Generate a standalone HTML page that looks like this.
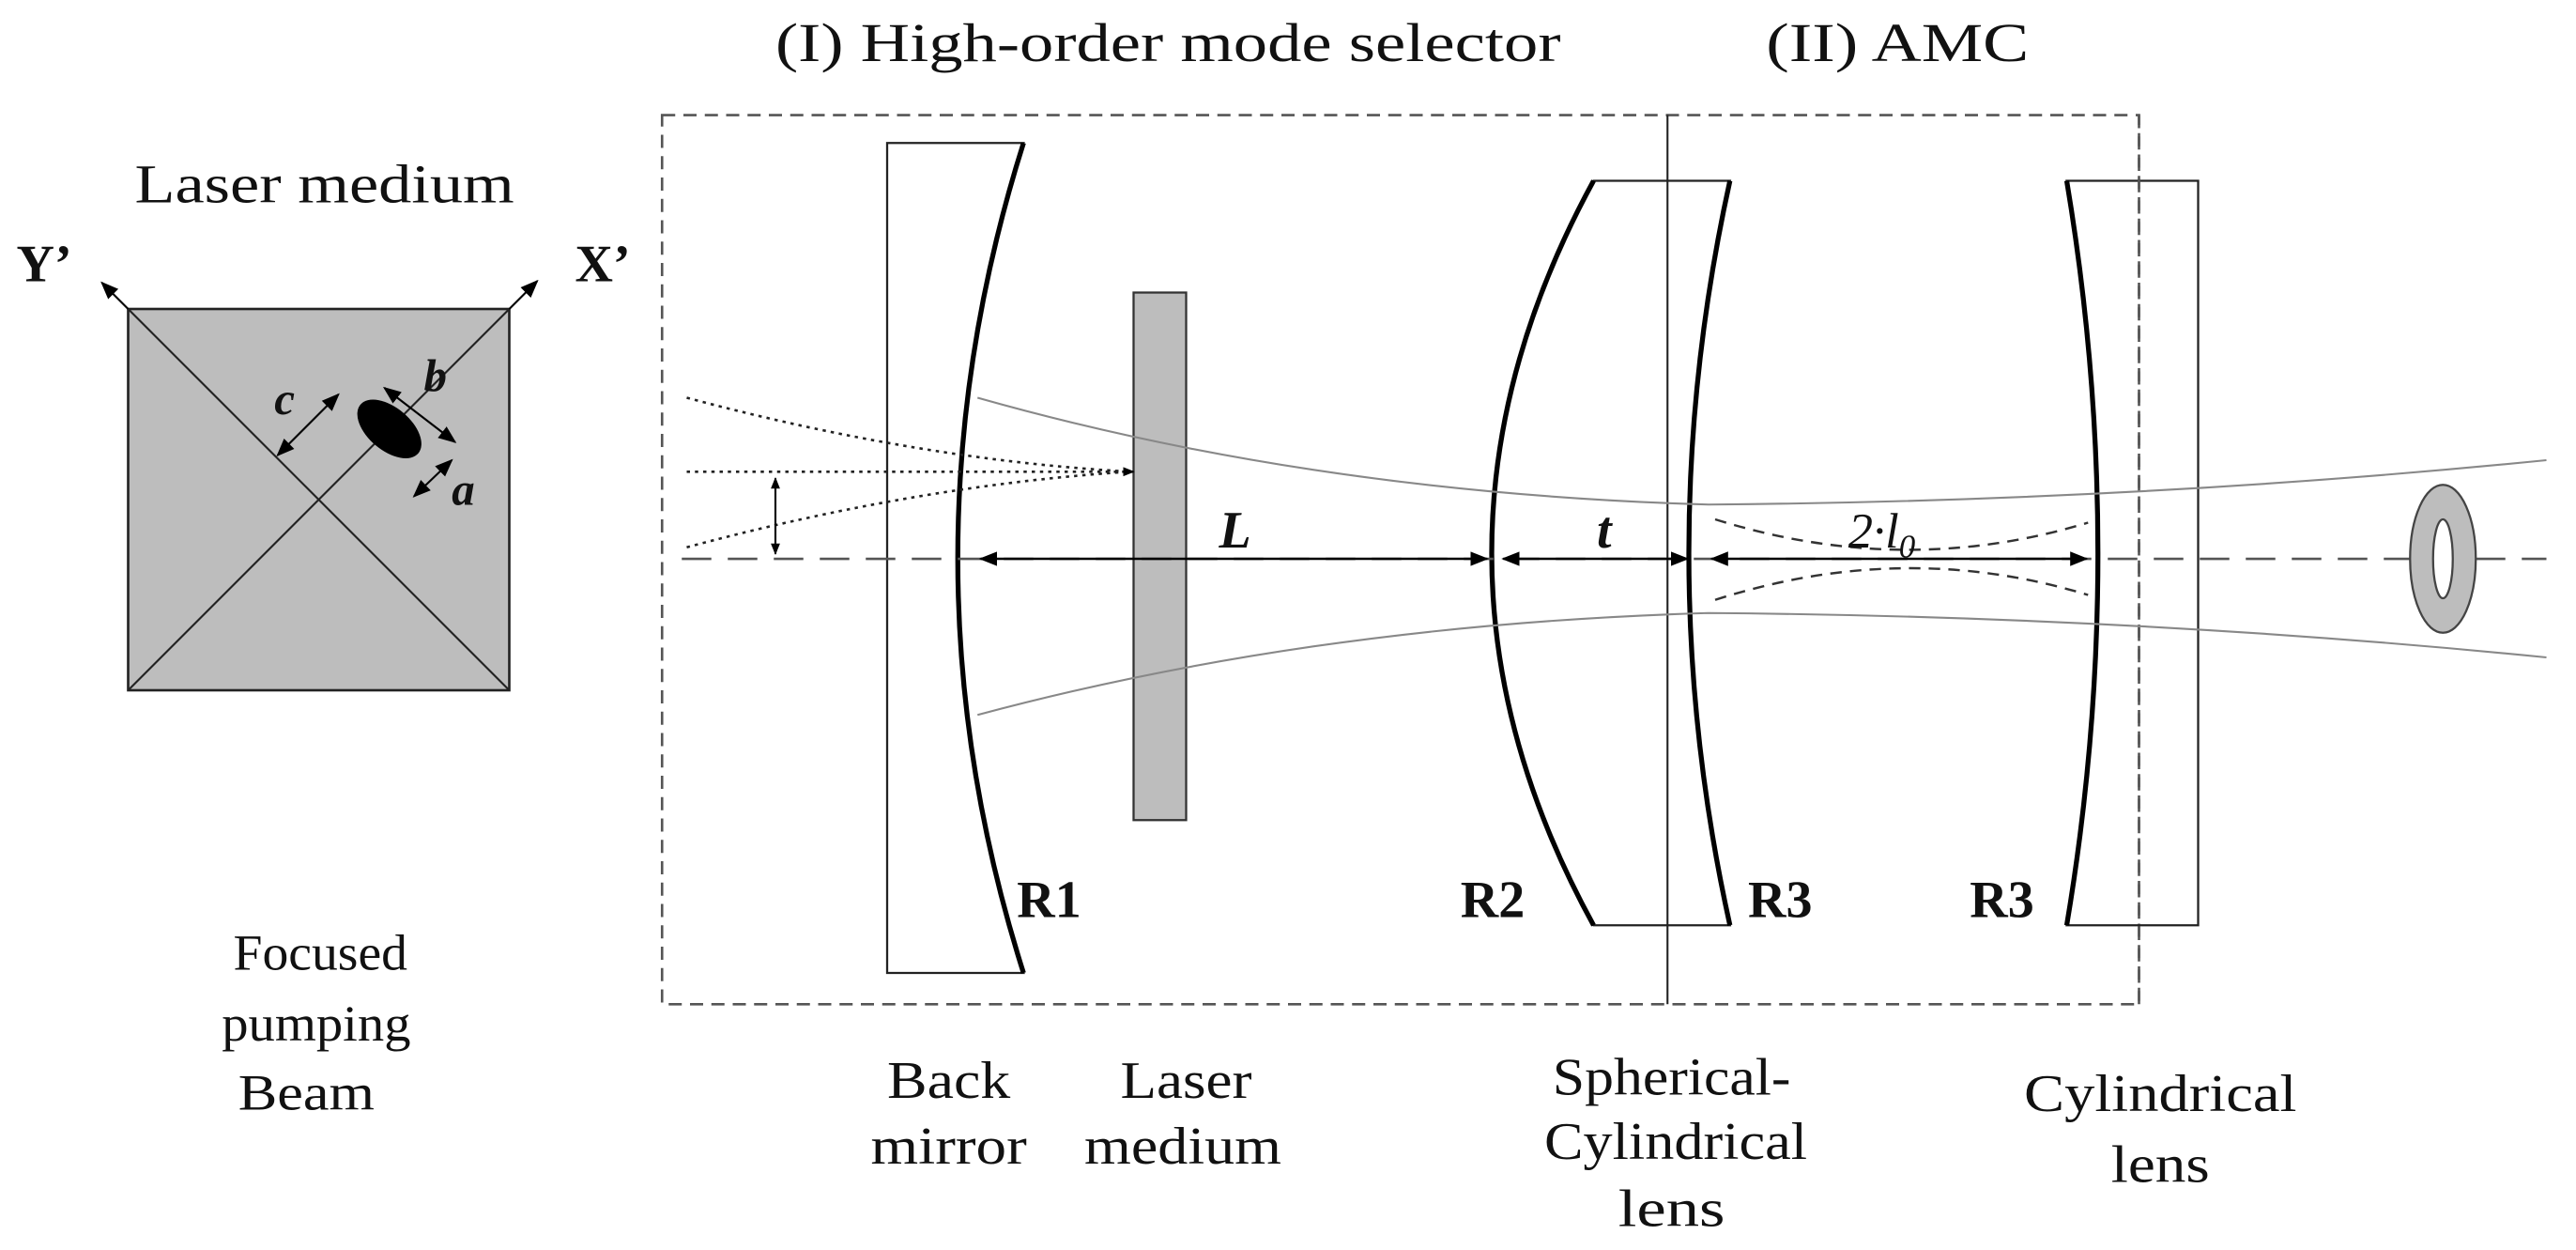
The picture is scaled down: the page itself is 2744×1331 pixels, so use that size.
<!DOCTYPE html>
<html><head><meta charset="utf-8"><style>
html,body{margin:0;padding:0;background:#fff;}
svg{display:block;}
text{font-family:"Liberation Serif",serif;fill:#111;}
</style></head><body>
<svg width="2744" height="1331" viewBox="0 0 1568 760.57" xmlns="http://www.w3.org/2000/svg">
<defs>
<marker id="ah" viewBox="0 0 10 10" refX="9" refY="5" markerWidth="7" markerHeight="7" orient="auto-start-reverse" markerUnits="userSpaceOnUse"><path d="M0,1 L10,5 L0,9 Z" fill="#000"/></marker>
<marker id="ahs" viewBox="0 0 10 10" refX="9" refY="5" markerWidth="11" markerHeight="11" orient="auto-start-reverse" markerUnits="userSpaceOnUse"><path d="M0,1 L10,5 L0,9 Z" fill="#000"/></marker>
</defs>
<!-- titles -->
<text x="472" y="37" font-size="33" textLength="478" lengthAdjust="spacingAndGlyphs">(I) High-order mode  selector</text>
<text x="1075" y="37" font-size="33" textLength="160" lengthAdjust="spacingAndGlyphs">(II) AMC</text>
<!-- dashed boxes -->
<rect x="403" y="70" width="899" height="541" fill="none" stroke="#555" stroke-width="1.5" stroke-dasharray="8,5"/>
<!-- left panel -->
<text x="82" y="123" font-size="33" textLength="231" lengthAdjust="spacingAndGlyphs">Laser medium</text>
<text x="10" y="171" font-size="32" font-weight="bold">Y’</text>
<text x="350" y="171" font-size="32" font-weight="bold">X’</text>
<rect x="78" y="188" width="232" height="232" fill="#bdbdbd" stroke="#222" stroke-width="1.5"/>
<line x1="78" y1="188" x2="310" y2="420" stroke="#222" stroke-width="1.2"/>
<line x1="310" y1="188" x2="78" y2="420" stroke="#222" stroke-width="1.2"/>
<line x1="78" y1="188" x2="62" y2="172" stroke="#000" stroke-width="1.2" marker-end="url(#ahs)"/>
<line x1="310" y1="188" x2="327" y2="171" stroke="#000" stroke-width="1.2" marker-end="url(#ahs)"/>
<ellipse cx="237" cy="261" rx="23" ry="13" transform="rotate(40 237 261)" fill="#000"/>
<line x1="169" y1="277" x2="206" y2="240" stroke="#000" stroke-width="1.2" marker-start="url(#ahs)" marker-end="url(#ahs)"/>
<line x1="234" y1="236" x2="277" y2="269" stroke="#000" stroke-width="1.2" marker-start="url(#ahs)" marker-end="url(#ahs)"/>
<line x1="252" y1="302" x2="275" y2="280" stroke="#000" stroke-width="1.2" marker-start="url(#ahs)" marker-end="url(#ahs)"/>
<text x="167" y="252" font-size="28" font-style="italic" font-weight="bold">c</text>
<text x="258" y="238" font-size="28" font-style="italic" font-weight="bold">b</text>
<text x="275" y="307" font-size="28" font-style="italic" font-weight="bold">a</text>
<text x="142" y="590" font-size="31" textLength="106" lengthAdjust="spacingAndGlyphs">Focused</text>
<text x="135" y="633" font-size="31" textLength="115" lengthAdjust="spacingAndGlyphs">pumping</text>
<text x="145" y="675" font-size="31" textLength="83" lengthAdjust="spacingAndGlyphs">Beam</text>
<!-- back mirror -->
<path d="M540,87 L623,87 Q543,340 623,592 L540,592 Z" fill="#fff" stroke="#222" stroke-width="1.3"/>
<path d="M623,87 Q543,340 623,592" fill="none" stroke="#000" stroke-width="3"/>
<!-- laser medium -->
<rect x="690" y="178" width="32" height="321" fill="#bdbdbd" stroke="#333" stroke-width="1.3"/>
<!-- spherical-cylindrical lens -->
<path d="M970,110 L1053,110 Q1003,337 1053,563 L970,563 Q846,337 970,110 Z" fill="#fff" stroke="#222" stroke-width="1.3"/>
<path d="M970,110 Q846,337 970,563" fill="none" stroke="#000" stroke-width="3"/>
<path d="M1053,110 Q1003,337 1053,563" fill="none" stroke="#000" stroke-width="3"/>
<line x1="1015" y1="70" x2="1015" y2="611" stroke="#222" stroke-width="1.2"/>
<!-- cylindrical lens -->
<path d="M1258,110 L1338,110 L1338,563 L1258,563 Q1296,337 1258,110 Z" fill="none" stroke="#222" stroke-width="1.3"/>
<path d="M1258,110 Q1296,337 1258,563" fill="none" stroke="#000" stroke-width="3"/>
<line x1="1302" y1="70" x2="1302" y2="611" stroke="#555" stroke-width="1.5" stroke-dasharray="8,5"/>
<!-- beam lines -->
<path d="M595,242 Q800,300 1040,307 Q1300,305 1550,280" fill="none" stroke="#888" stroke-width="1.2"/>
<path d="M595,435 Q800,380 1040,373 Q1300,375 1550,400" fill="none" stroke="#888" stroke-width="1.2"/>
<line x1="415" y1="340" x2="1550" y2="340" stroke="#555" stroke-width="1.5" stroke-dasharray="18,10"/>
<!-- dashed AMC curves -->
<path d="M1044,316 Q1159,352 1271,318" fill="none" stroke="#333" stroke-width="1.4" stroke-dasharray="7,5"/>
<path d="M1044,365 Q1159,328 1271,362" fill="none" stroke="#333" stroke-width="1.4" stroke-dasharray="7,5"/>
<!-- dotted input beam -->
<path d="M418,242 Q560,280 688,287" fill="none" stroke="#222" stroke-width="1.5" stroke-dasharray="2,3"/>
<path d="M418,333 Q560,295 688,287" fill="none" stroke="#222" stroke-width="1.5" stroke-dasharray="2,3"/>
<line x1="418" y1="287" x2="690" y2="287" stroke="#222" stroke-width="1.5" stroke-dasharray="2,3" marker-end="url(#ah)"/>
<line x1="472" y1="291" x2="472" y2="337" stroke="#000" stroke-width="1.2" marker-start="url(#ah)" marker-end="url(#ah)"/>
<!-- dimension arrows -->
<line x1="597" y1="340" x2="905" y2="340" stroke="#000" stroke-width="1.4" marker-start="url(#ahs)" marker-end="url(#ahs)"/>
<line x1="915" y1="340" x2="1027" y2="340" stroke="#000" stroke-width="1.4" marker-start="url(#ahs)" marker-end="url(#ahs)"/>
<line x1="1042" y1="340" x2="1270" y2="340" stroke="#000" stroke-width="1.4" marker-start="url(#ahs)" marker-end="url(#ahs)"/>
<text x="742" y="333" font-size="32" font-style="italic" font-weight="bold">L</text>
<text x="972" y="333" font-size="32" font-style="italic" font-weight="bold">t</text>
<text x="1125" y="333" font-size="30" font-style="italic">2·l<tspan font-size="20" dy="6">0</tspan></text>
<!-- ring -->
<ellipse cx="1487" cy="340" rx="20" ry="45" fill="#bdbdbd" stroke="#444" stroke-width="1.3"/>
<ellipse cx="1487" cy="340" rx="6" ry="24" fill="#fff" stroke="#444" stroke-width="1.3"/>
<!-- R labels -->
<text x="619" y="558" font-size="32" font-weight="bold">R1</text>
<text x="889" y="558" font-size="32" font-weight="bold">R2</text>
<text x="1064" y="558" font-size="32" font-weight="bold">R3</text>
<text x="1199" y="558" font-size="32" font-weight="bold">R3</text>
<!-- bottom labels -->
<text x="540" y="668" font-size="32" textLength="75" lengthAdjust="spacingAndGlyphs">Back</text>
<text x="530" y="708" font-size="32" textLength="95" lengthAdjust="spacingAndGlyphs">mirror</text>
<text x="682" y="668" font-size="32" textLength="80" lengthAdjust="spacingAndGlyphs">Laser</text>
<text x="660" y="708" font-size="32" textLength="120" lengthAdjust="spacingAndGlyphs">medium</text>
<text x="945" y="666" font-size="32" textLength="145" lengthAdjust="spacingAndGlyphs">Spherical-</text>
<text x="940" y="705" font-size="32" textLength="160" lengthAdjust="spacingAndGlyphs">Cylindrical</text>
<text x="985" y="746" font-size="32" textLength="65" lengthAdjust="spacingAndGlyphs">lens</text>
<text x="1232" y="676" font-size="32" textLength="166" lengthAdjust="spacingAndGlyphs">Cylindrical</text>
<text x="1285" y="719" font-size="32" textLength="60" lengthAdjust="spacingAndGlyphs">lens</text>
</svg>
</body></html>
